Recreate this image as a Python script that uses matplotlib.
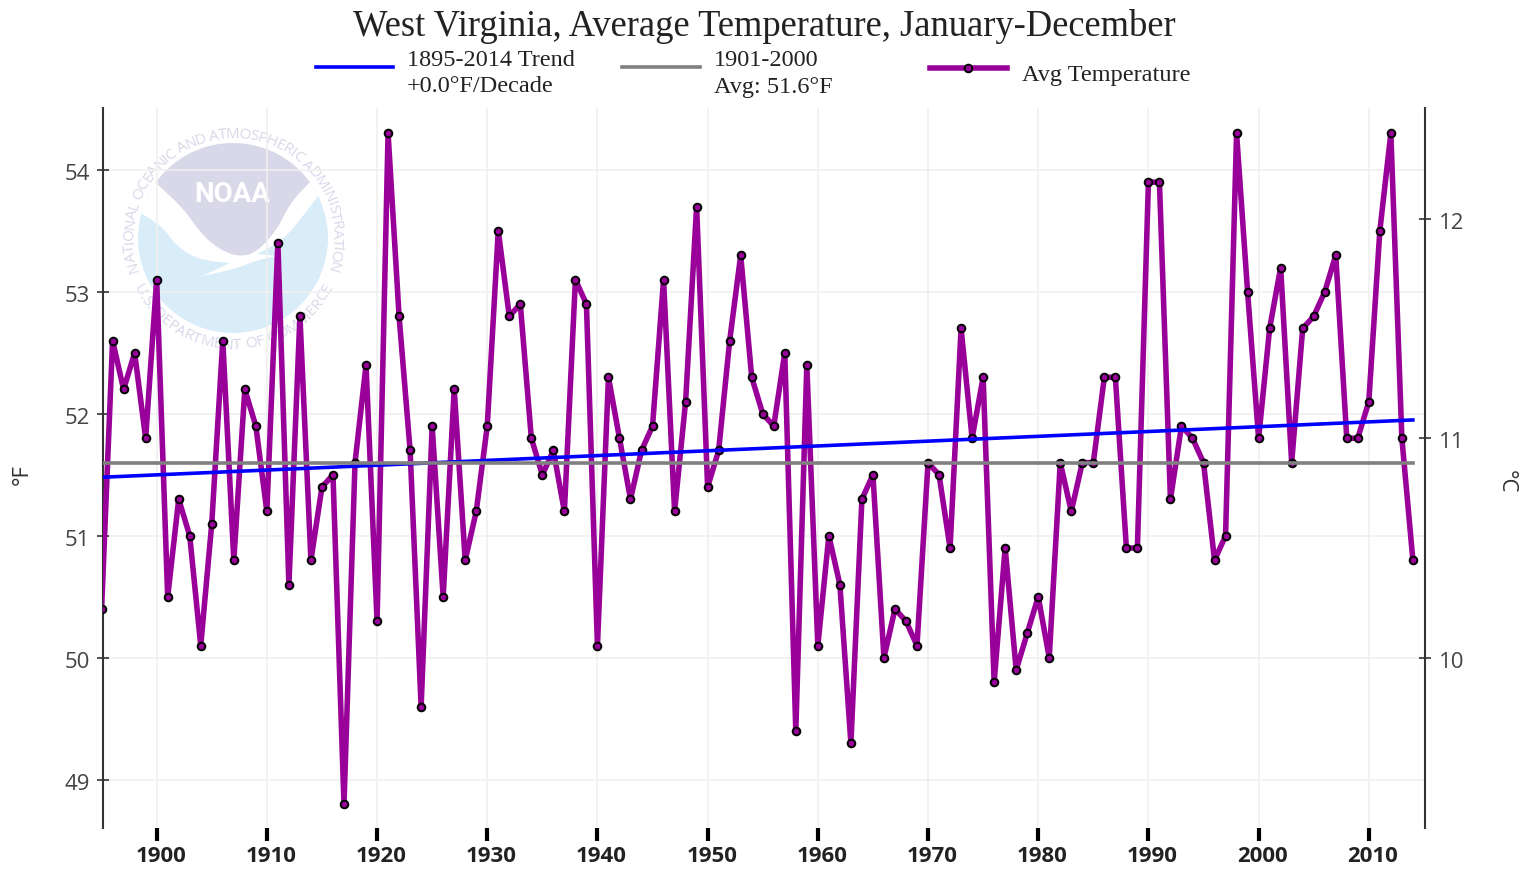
"""
West Virginia average temperature chart, redrawn from the NOAA climate page.
"""
import numpy as np
import matplotlib
matplotlib.use("Agg")
import matplotlib.pyplot as plt
from matplotlib.font_manager import FontProperties
from matplotlib.patches import Circle, PathPatch
from matplotlib.path import Path
from matplotlib.textpath import TextToPath
from matplotlib.transforms import ScaledTranslation

YEARS = list(range(1895, 2015))
TEMPS = [50.4, 52.6, 52.2, 52.5, 51.8, 53.1, 50.5, 51.3, 51.0, 50.1,
         51.1, 52.6, 50.8, 52.2, 51.9, 51.2, 53.4, 50.6, 52.8, 50.8,
         51.4, 51.5, 48.8, 51.6, 52.4, 50.3, 54.3, 52.8, 51.7, 49.6,
         51.9, 50.5, 52.2, 50.8, 51.2, 51.9, 53.5, 52.8, 52.9, 51.8,
         51.5, 51.7, 51.2, 53.1, 52.9, 50.1, 52.3, 51.8, 51.3, 51.7,
         51.9, 53.1, 51.2, 52.1, 53.7, 51.4, 51.7, 52.6, 53.3, 52.3,
         52.0, 51.9, 52.5, 49.4, 52.4, 50.1, 51.0, 50.6, 49.3, 51.3,
         51.5, 50.0, 50.4, 50.3, 50.1, 51.6, 51.5, 50.9, 52.7, 51.8,
         52.3, 49.8, 50.9, 49.9, 50.2, 50.5, 50.0, 51.6, 51.2, 51.6,
         51.6, 52.3, 52.3, 50.9, 50.9, 53.9, 53.9, 51.3, 51.9, 51.8,
         51.6, 50.8, 51.0, 54.3, 53.0, 51.8, 52.7, 53.2, 51.6, 52.7,
         52.8, 53.0, 53.3, 51.8, 51.8, 52.1, 53.5, 54.3, 51.8, 50.8]
TREND_YEARS = [1895, 2014]
TREND_VALUES = [51.48, 51.95]
AVG_YEARS = [1895, 2014]
AVG_VALUES = [51.6, 51.6]
DECADES = list(range(1900, 2020, 10))
F_TICKS = [49, 50, 51, 52, 53, 54]
C_TICKS = [10, 11, 12]

W, H = 1526, 869
PURPLE = "#990099"
SERIF = "Liberation Serif"
SANS = "Open Sans"


def arc_text(ax, text, cx, cy, radius, start, end, size, color):
    """Put text one letter at a time on a circle, angles in degrees."""
    prop = FontProperties(family=SANS, size=size)
    widths = [TextToPath().get_text_width_height_descent(c, prop, False)[0] for c in text]
    pos = np.cumsum([0] + widths[:-1]) + np.array(widths) / 2
    angles = start + (end - start) * pos / sum(widths)
    for ch, ang in zip(text, angles):
        rad = np.radians(ang)
        rot = ang - 90 if end < start else ang + 90
        ax.text(cx + radius * np.cos(rad), cy - radius * np.sin(rad), ch,
                rotation=rot, rotation_mode="anchor", ha="center", va="baseline",
                fontproperties=prop, color=color)


def smooth(points):
    """Vertices and codes of a curve through the midpoints of the given points."""
    verts, codes = [points[0]], [Path.LINETO]
    for a, b in zip(points[1:-1], points[2:]):
        verts += [a, ((a[0] + b[0]) / 2, (a[1] + b[1]) / 2)]
        codes += [Path.CURVE3, Path.CURVE3]
    verts.append(points[-1])
    codes.append(Path.LINETO)
    return verts, codes


def seal_shape(ax, pieces, color, cx, cy):
    verts, codes = [], []
    for piece in pieces:
        v, c = smooth(piece)
        verts += v
        codes += c
    codes[0] = Path.MOVETO
    patch = PathPatch(Path(verts, codes), fc=color, ec="none")
    ax.add_patch(patch)
    patch.set_clip_path(Circle((cx, cy), 95, transform=ax.transData))


def draw_logo(ax):
    cx, cy = 233, 238
    ax.add_patch(Circle((cx, cy), 95, fc="#d9edf9", ec="none"))
    # white swoosh, then the lavender top of the seal
    seal_shape(ax, [[(100, 130), (125, 205), (140, 213)],
                    [(140, 213), (160, 223), (177, 247), (200, 260), (230, 263)],
                    [(230, 263), (202, 276)],
                    [(202, 276), (233, 270), (257, 260), (277, 256)],
                    [(277, 256), (257, 254)],
                    [(257, 254), (280, 243), (300, 220), (318, 196)],
                    [(318, 196), (340, 130)]], "white", cx, cy)
    seal_shape(ax, [[(158, 185), (183, 207), (200, 233), (220, 250), (240, 257),
                     (257, 252), (277, 230), (290, 203), (310, 182)],
                    [(310, 182), (330, 130)], [(330, 130), (140, 130)],
                    [(140, 130), (158, 185)]], "#d8d8e8", cx, cy)
    ax.text(232, 194, "NOAA", color="white", fontsize=20, fontweight="bold",
            family="Roboto", ha="center", va="center")
    arc_text(ax, "NATIONAL OCEANIC AND ATMOSPHERIC ADMINISTRATION",
             cx, cy, 100, 199, -19, 11, "#d8d8ea")
    arc_text(ax, "U.S. DEPARTMENT OF COMMERCE",
             cx, cy, 111, 206, 334, 11, "#d8d8ea")


def draw_header(ax):
    ax.text(764, 26, "West Virginia, Average Temperature, January-December",
            family=SERIF, fontsize=26.3, color="#222222", ha="center", va="center")
    ax.plot([316, 393], [67, 67], color="#0000ff", lw=2.6)
    ax.plot([622, 700], [67, 67], color="#808080", lw=2.6)
    ax.plot([930, 1007], [68, 68], color=PURPLE, lw=4)
    ax.plot([968], [68], "o", ms=5.5, mfc=PURPLE, mec="black", mew=1.4)
    for x, y, label in [(407, 61, "1895-2014 Trend"), (407, 87, "+0.0°F/Decade"),
                        (714, 61, "1901-2000"), (714, 87, "Avg: 51.6°F"),
                        (1022, 75, "Avg Temperature")]:
        ax.text(x, y, label, family=SERIF, fontsize=17.5, color="#222222", va="center")


def main():
    fig = plt.figure(figsize=(W / 100, H / 100), dpi=100)

    # background layer in image pixels for the seal, title and legend
    back = fig.add_axes([0, 0, 1, 1], zorder=0)
    back.set_xlim(0, W)
    back.set_ylim(H, 0)
    back.axis("off")
    draw_logo(back)
    draw_header(back)

    left, right, top, bottom = 103, 1425, 108, 828
    ax = fig.add_axes([left / W, 1 - bottom / H, (right - left) / W, (bottom - top) / H],
                      zorder=1)
    ax.patch.set_visible(False)
    ax.set_xlim(1895.13, 2015.1)
    ax.set_ylim(48.604, 54.508)

    ax.plot(YEARS, TEMPS, color=PURPLE, lw=4, marker="o", ms=5.5, mfc=PURPLE,
            mec="black", mew=1.4, zorder=3)
    ax.plot(TREND_YEARS, TREND_VALUES, color="#0000ff", lw=2.6, zorder=4)
    ax.plot(AVG_YEARS, AVG_VALUES, color="#808080", lw=2.6, zorder=4)

    ax.set_xticks(DECADES)
    ax.set_yticks(F_TICKS)
    ax.grid(True, color="#f0f0f0", lw=1.2, zorder=1)
    ax.set_axisbelow(True)
    ax.tick_params(axis="x", direction="out", length=9, width=3, color="black", pad=4)
    ax.tick_params(axis="y", direction="inout", length=8.6, width=1.2, color="#333333",
                   labelcolor="#444444", labelsize=16, pad=5)
    offset = ScaledTranslation(4 / 100, 0, fig.dpi_scale_trans)
    drop = ScaledTranslation(0, -2 / 100, fig.dpi_scale_trans)
    for label in ax.get_xticklabels():
        label.set_family(SANS)
        label.set_fontweight("bold")
        label.set_fontsize(16)
        label.set_color("#222222")
        label.set_transform(label.get_transform() + offset)
    for label in ax.get_yticklabels():
        label.set_family(SANS)
        label.set_transform(label.get_transform() + drop)
    for side in ("top", "bottom", "right"):
        ax.spines[side].set_visible(False)
    ax.spines["left"].set_color("#333333")
    ax.spines["left"].set_linewidth(1.5)

    ax2 = ax.twinx()
    ax2.set_ylim((48.604 - 32) / 1.8, (54.508 - 32) / 1.8)
    ax2.set_yticks(C_TICKS)
    ax2.tick_params(axis="y", direction="inout", length=8.6, width=1.2, color="#333333",
                    labelcolor="#444444", labelsize=16, pad=6)
    for label in ax2.get_yticklabels():
        label.set_family(SANS)
        label.set_transform(label.get_transform() + drop)
    for side in ("top", "bottom", "left"):
        ax2.spines[side].set_visible(False)
    ax2.spines["right"].set_color("#333333")
    ax2.spines["right"].set_linewidth(1.5)

    fig.text(22 / W, 1 - 475 / H, "°F", rotation=90, family=SANS, fontsize=16,
             color="#333333", ha="center", va="center")
    fig.text(1506 / W, 1 - 482 / H, "°C", rotation=-90, family=SANS, fontsize=16,
             color="#333333", ha="center", va="center")

    fig.savefig("out.png", dpi=100)


if __name__ == "__main__":
    main()
